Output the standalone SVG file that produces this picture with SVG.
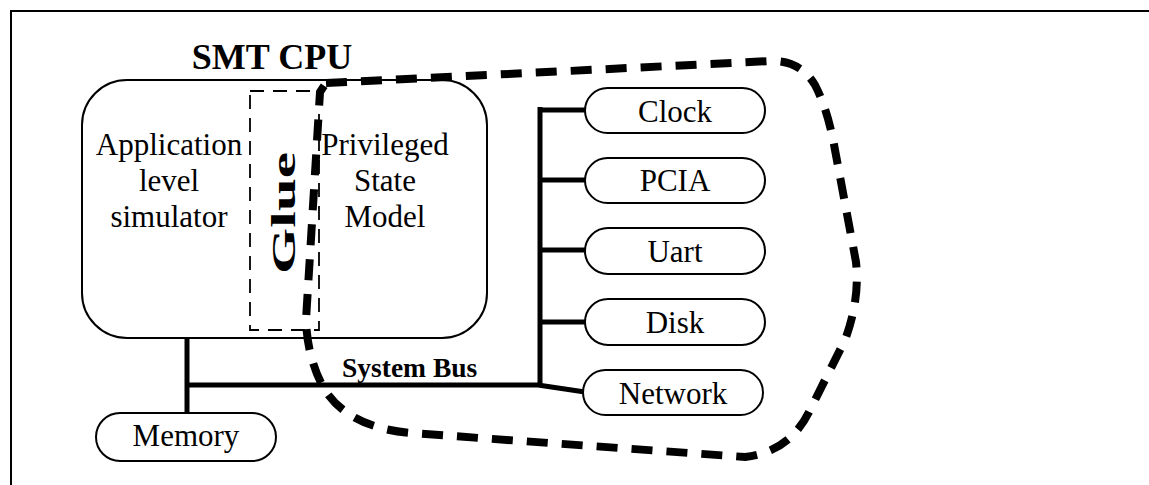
<svg xmlns="http://www.w3.org/2000/svg" width="1149" height="485" viewBox="0 0 1149 485">
<style>
.t{font-family:"Liberation Serif","Times New Roman",serif;fill:#000}
.r{font-size:31px}
.b{font-weight:bold}
.node{fill:#fff;stroke:#000;stroke-width:2}
.bus{fill:none;stroke:#000;stroke-width:5}
</style>
<rect width="1149" height="485" fill="#fff"/>
<g id="frame" fill="none" stroke="#000" stroke-width="2">
<path d="M11,485 V11 H1149"/>
</g>
<g id="cpu">
<text class="t b" x="272" y="69" font-size="36" text-anchor="middle">SMT CPU</text>
<rect x="82" y="80" width="405" height="258" rx="45" ry="45" fill="#fff" stroke="#000" stroke-width="2"/>
</g>
<g id="app">
<text class="t r" x="169" y="155" text-anchor="middle">Application</text>
<text class="t r" x="169" y="191" text-anchor="middle">level</text>
<text class="t r" x="169" y="227" text-anchor="middle">simulator</text>
</g>
<g id="priv">
<text class="t r" x="385" y="155" text-anchor="middle">Privileged</text>
<text class="t r" x="385" y="191" text-anchor="middle">State</text>
<text class="t r" x="385" y="227" text-anchor="middle">Model</text>
</g>
<g id="glue">
<rect x="250" y="91" width="69" height="239" fill="none" stroke="#000" stroke-width="1.8" stroke-dasharray="14,9"/>
<text class="t b" font-size="33" text-anchor="middle" transform="translate(295,213) rotate(-90) scale(1.8,1)">Glue</text>
</g>
<g id="connectors">
<path class="bus" d="M187,338 V413"/>
<path class="bus" d="M187,385 H538 L585,392"/>
<path class="bus" d="M540,107 V385"/>
<path class="bus" d="M540,110 H586 M540,180 H586 M540,250 H586 M540,322 H586"/>
</g>
<g id="sysbus">
<text class="t b" x="342" y="377" font-size="27.5">System Bus</text>
</g>
<g id="clock"><rect class="node" x="585" y="88" width="180" height="45" rx="22.5"/><text class="t r" x="675" y="122" text-anchor="middle">Clock</text></g>
<g id="pcia"><rect class="node" x="585" y="158" width="180" height="45" rx="22.5"/><text class="t r" x="675" y="191" text-anchor="middle">PCIA</text></g>
<g id="uart"><rect class="node" x="585" y="228" width="180" height="46" rx="23"/><text class="t r" x="675" y="262" text-anchor="middle">Uart</text></g>
<g id="disk"><rect class="node" x="585" y="299" width="180" height="46" rx="23"/><text class="t r" x="675" y="333" text-anchor="middle">Disk</text></g>
<g id="network"><rect class="node" x="583" y="370" width="180" height="45" rx="22.5"/><text class="t r" x="673" y="404" text-anchor="middle">Network</text></g>
<g id="memory"><rect class="node" x="96" y="413" width="180" height="48" rx="24"/><text class="t r" x="186" y="446" text-anchor="middle">Memory</text></g>
<g id="boundary">
<path d="M326,83 L770,61 Q800,60 815,85 Q828,110 835,150 L856,262 Q860,300 845,340 L810,410 Q790,452 745,457 L410,433 Q345,427 322,385 Q307,355 306,320 L320,92 Z" fill="none" stroke="#000" stroke-width="8" stroke-dasharray="21,14"/>
</g>
</svg>
